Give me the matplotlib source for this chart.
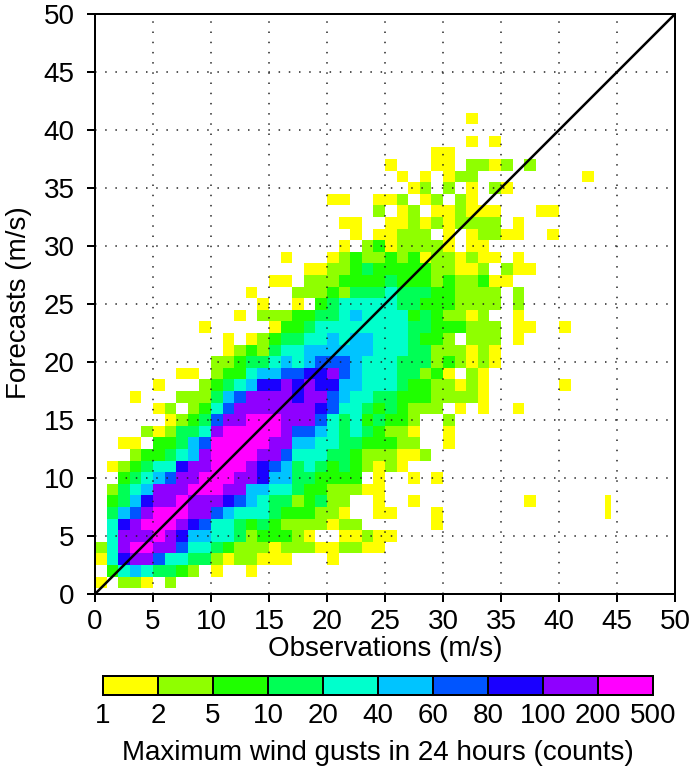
import numpy as np
import matplotlib
matplotlib.use("Agg")
import matplotlib.pyplot as plt
from matplotlib.colors import ListedColormap, BoundaryNorm

plt.rcParams['font.family'] = ['Liberation Sans', 'DejaVu Sans']

# Colour class of each 1 m/s bin: '.' empty, 1..9 and A = class index in COUNT_LABELS
# FORECAST_ROWS[f] = (first observation bin, classes from that bin on), f = forecast value in m/s
FORECAST_ROWS = {
    1: (0, "1.221.2"),
    2: (0, ".35654432.1..1"),
    3: (0, "15899755442122111...1"),
    4: (0, "259AA99755432221222112211"),
    5: (0, ".5999A9866554233321..11211"),
    6: (0, ".589AAA9875543432222122......1"),
    7: (0, ".4679AAA99765554333221..11...1"),
    8: (0, ".346899A99987654423422..1..1.........1"),
    9: (0, ".2456999AAA99665543322211"),
    10: (0, "..3456799AAA99866443333.1..1.1"),
    11: (0, ".123455899AAA987645434" + "32121"),
    12: (0, "...2334569AAAA997555443222112"),
    13: (0, "..11.33467AAAAA9966554433322..1"),
    14: (0, "....2124459AAAAA977654543221..1"),
    15: (0, "......1234799AAA999754534332..2"),
    16: (0, ".....12.2357" + "9999999" + "87554343" + "222" + ".1.1..1"),
    17: (0, "...1...222467" + "9999" + "899" + "76" + "55" + "44" + "333" + "2222" + "1"),
    18: (0, ".....1...2" + "34568898" + "988" + "66" + "555" + "4" + "33" + "22" + "121" + "......1"),
    19: (0, ".......11.2" + "33" + "5" + "66" + "77" + "88" + "9" + "7" + "6" + "555" + "44" + "231.21"),
    20: (10, "22344565677765554442" + "3212" + "1"),
    21: (11, "1232455" + "666666" + "555" + "44" + "222" + "121"),
    22: (11, "1.1234455" + "6566" + "555" + "4" + "33" + "2.222.1"),
    23: (9, "1.....1334" + "55555555" + "44" + "333" + "222" + ".11..1"),
    24: (12, "1.22233445" + "6" + "5555" + "34" + "3" + "221" + "2..1"),
    25: (14, "1..1.34" + "55555" + "44" + "333" + "2222" + ".2"),
    26: (13, "1...2223" + "2" + "444" + "5" + "444" + "33" + "2222" + ".2"),
    27: (15, "11.222" + "3333" + "4" + "333" + "23" + "223" + "11"),
    28: (18, "11223" + "4" + "33333" + "22" + "11" + "2.211"),
    29: (16, "1...1232" + "2" + "3" + "2" + "3" + "1" + "22" + "1" + "2" + "11.1"),
    30: (21, "1.2312222" + "1.11"),
    31: (22, "1.11222.1.122" + "11..1"),
    32: (21, "11..11212" + "12222.1"),
    33: (24, "2.12.11" + "2111...11"),
    34: (20, "11..112.12.21"),
    35: (27, "12.2.1.21"),
    36: (26, "1.1.122.........1"),
    37: (25, "1...11.2212.2"),
    38: (29, "11"),
    39: (32, "1.1"),
    41: (32, "1"),
}
# One half-width bin at the right of the cloud
NARROW_BIN_EDGES_X = [44.0, 44.5]
NARROW_BIN_EDGES_Y = [6.5, 7.5, 8.5]
NARROW_BIN_CLASSES = [[1], [1]]

COUNT_LABELS = ["1", "2", "5", "10", "20", "40", "60", "80", "100", "200", "500"]
COLORS = ["#ffff00", "#8fff00", "#1fff00", "#00ff55", "#00ffcc",
          "#00c4ff", "#0055ff", "#1a00ff", "#8f00ff", "#ff00ff"]
AXIS_TICKS = list(range(0, 51, 5))
XLABEL = "Observations (m/s)"
YLABEL = "Forecasts (m/s)"
CBAR_LABEL = "Maximum wind gusts in 24 hours (counts)"

PX = 0.72  # one pixel in points at dpi 100
W, H = 690, 777
FS = 20

cmap = ListedColormap(COLORS)
norm = BoundaryNorm(np.arange(0.5, 11.5), cmap.N)

grid = np.full((50, 50), np.nan)
for f, (start, codes) in FORECAST_ROWS.items():
    for k, ch in enumerate(codes):
        if ch != '.':
            grid[f, start + k] = 10 if ch == 'A' else int(ch)

fig = plt.figure(figsize=(W / 100, H / 100), dpi=100, facecolor="white")
ax = fig.add_axes([95 / W, (H - 594) / H, 580 / W, 580 / H])

ax.pcolormesh(np.arange(51), np.arange(51) - 0.5, grid, cmap=cmap, norm=norm,
              edgecolors="none", antialiased=False, zorder=1)
ax.pcolormesh(NARROW_BIN_EDGES_X, NARROW_BIN_EDGES_Y, np.array(NARROW_BIN_CLASSES, float),
              cmap=cmap, norm=norm, zorder=1)

ax.set_xlim(0, 50)
ax.set_ylim(0, 50)
ax.set_xticks(AXIS_TICKS)
ax.set_yticks(AXIS_TICKS)
ax.tick_params(length=8 * PX, width=2 * PX, labelsize=FS, color="black")
ax.tick_params(axis="x", pad=5)
ax.tick_params(axis="y", pad=9)
ax.set_xlabel(XLABEL, fontsize=FS, labelpad=1)
ax.set_ylabel(YLABEL, fontsize=FS, labelpad=8, y=0.502)
for s in ax.spines.values():
    s.set_linewidth(2 * PX)
    s.set_zorder(5)

ax.grid(True, color="#202020", linewidth=1.5 * PX, linestyle=(0, (1, 5.8)), zorder=2)
ax.set_axisbelow(False)
ax.plot([0, 50], [0, 50], color="black", linewidth=2.5 * PX, zorder=3)

# colour bar
cax = fig.add_axes([103 / W, (H - 694.5) / H, 550 / W, 19 / H])
edges = np.arange(len(COLORS) + 1)
cax.pcolormesh(edges, [0, 1], np.arange(1, 11)[None, :].astype(float), cmap=cmap, norm=norm,
               edgecolors="black", linewidth=1.5 * PX)
cax.set_xlim(0, 10)
cax.set_ylim(0, 1)
cax.set_yticks([])
cax.set_xticks(edges)
cax.set_xticklabels(COUNT_LABELS)
cax.tick_params(length=0, labelsize=FS, pad=6)
cax.set_xlabel(CBAR_LABEL, fontsize=FS, labelpad=8)
for s in cax.spines.values():
    s.set_linewidth(2 * PX)

fig.savefig("out.png", dpi=100)
